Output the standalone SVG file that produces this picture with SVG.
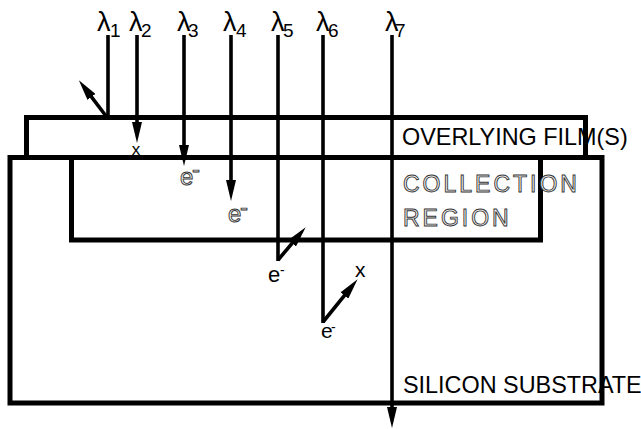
<svg xmlns="http://www.w3.org/2000/svg" width="641" height="429" viewBox="0 0 641 429">
<style>
.box{fill:none;stroke:#000;stroke-width:5}
.ray{fill:none;stroke:#000;stroke-width:3.6}
.lbl{font-family:"Liberation Sans",Arial,sans-serif;font-size:23.4px;fill:#000}
.out{font-family:"Liberation Sans",Arial,sans-serif;font-size:23px;fill:#f4f4f4;stroke:#333;stroke-width:0.9;letter-spacing:3px}
.lam{font-family:"Liberation Sans",Arial,sans-serif;font-size:27px;fill:#000}
.sub{font-family:"Liberation Sans",Arial,sans-serif;font-size:19px;fill:#000}
.sm{font-family:"Liberation Sans",Arial,sans-serif;fill:#000}
.oe{font-family:"Liberation Sans",Arial,sans-serif;font-size:24px;fill:#f4f4f4;stroke:#333;stroke-width:0.9}
</style>
<defs>
<marker id="ah" markerUnits="userSpaceOnUse" markerWidth="21" markerHeight="10" refX="8" refY="5" orient="auto">
<path d="M0,0 L21,5 L0,10 z" fill="#000"/>
</marker>
</defs>
<rect width="641" height="429" fill="#fff"/>
<g id="substrate">
<rect class="box" x="10" y="157.5" width="592" height="245.5" fill="#fff"/>
<text class="lbl" x="403" y="393">SILICON SUBSTRATE</text>
</g>
<g id="film">
<rect class="box" x="26.5" y="117.5" width="559" height="40" fill="#fff"/>
<text class="lbl" x="402" y="145">OVERLYING FILM(S)</text>
</g>
<g id="collection">
<rect class="box" x="71.5" y="157.5" width="469" height="82.5" fill="#f7f7f7"/>
<g opacity="0.99">
<text class="out" x="403" y="192">COLLECTION</text>
<text class="out" x="403" y="226">REGION</text>
</g>
</g>
<g id="labels">
<text class="lam" x="97" y="31">λ</text><text class="sub" x="110" y="37">1</text>
<text class="lam" x="129" y="31">λ</text><text class="sub" x="141" y="37">2</text>
<text class="lam" x="177" y="31">λ</text><text class="sub" x="188" y="37">3</text>
<text class="lam" x="223" y="31">λ</text><text class="sub" x="236" y="37">4</text>
<text class="lam" x="271" y="31">λ</text><text class="sub" x="283" y="37">5</text>
<text class="lam" x="316" y="31">λ</text><text class="sub" x="328" y="37">6</text>
<text class="lam" x="385" y="31">λ</text><text class="sub" x="395" y="37">7</text>
<text class="sm" x="136" y="155" font-size="17" text-anchor="middle">x</text>
<g opacity="0.99">
<text class="oe" x="180" y="185">e</text><text class="oe" x="192" y="177" font-size="14">-</text>
<text class="oe" x="228" y="222">e</text><text class="oe" x="240" y="215" font-size="14">-</text>
</g>
<text class="sm" x="268" y="282" font-size="22">e</text><text class="sm" x="280" y="275" font-size="14">-</text>
<text class="sm" x="321" y="338" font-size="21">e</text><text class="sm" x="331" y="332" font-size="14">-</text>
<text class="sm" x="355" y="277" font-size="21">x</text>
</g>
<g id="connectors">
<line class="ray" x1="108" y1="35" x2="108" y2="118"/>
<line class="ray" x1="107.5" y1="118" x2="86.7" y2="90.6" marker-end="url(#ah)"/>
<line class="ray" x1="137" y1="35" x2="137" y2="130" marker-end="url(#ah)"/>
<line class="ray" x1="184" y1="35" x2="184" y2="153" marker-end="url(#ah)"/>
<line class="ray" x1="231" y1="35" x2="231" y2="188" marker-end="url(#ah)"/>
<line class="ray" x1="278" y1="35" x2="278" y2="261"/>
<line class="ray" x1="278" y1="260" x2="297.3" y2="237.2" marker-end="url(#ah)"/>
<line class="ray" x1="323" y1="35" x2="323" y2="323"/>
<line class="ray" x1="323" y1="322" x2="349.4" y2="289.3" marker-end="url(#ah)"/>
<line class="ray" x1="392" y1="35" x2="392" y2="415" marker-end="url(#ah)"/>
</g>
</svg>
